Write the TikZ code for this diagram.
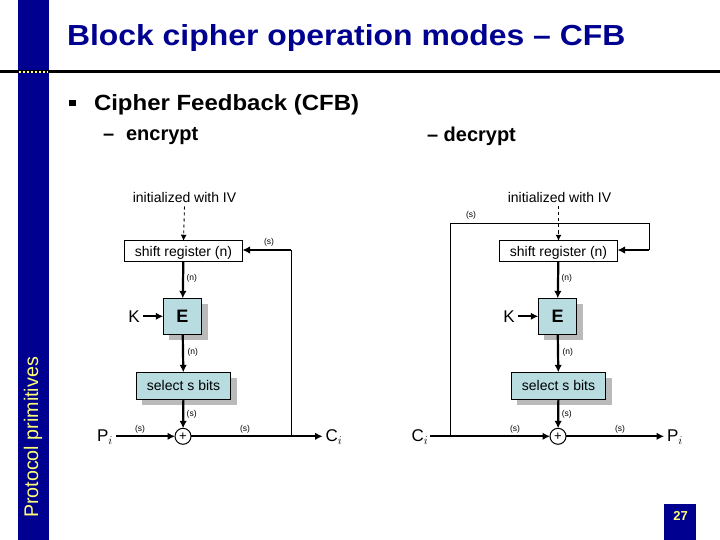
\documentclass[tikz,border=0pt]{standalone}
\usepackage{fontspec}
\setmainfont{Liberation Sans}
\usetikzlibrary{arrows.meta,calc}
\definecolor{slidenavy}{RGB}{0,0,144}
\definecolor{boxcyan}{RGB}{184,220,224}
\definecolor{shadowgray}{RGB}{186,186,186}
\definecolor{dotyellow}{RGB}{255,255,120}
\begin{document}
\begin{tikzpicture}[
        x=1pt,y=-1pt,
        every node/.style={inner sep=0pt,outer sep=0pt},
        register/.style={draw,fill=white,line width=1pt,minimum width=118pt,minimum height=20.5pt,text height=10pt,text depth=0pt,font=\fontsize{14}{16}\selectfont},
        cipherbox/.style={draw,fill=boxcyan,line width=1pt,minimum width=38.5pt,minimum height=36pt,font=\fontsize{18}{20}\selectfont\bfseries},
        selectbox/.style={draw,fill=boxcyan,line width=1pt,minimum width=94.5pt,minimum height=27pt,text height=10pt,text depth=0pt,font=\fontsize{14}{16}\selectfont},
        xorcircle/.style={draw,circle,fill=white,line width=1pt,minimum size=16pt,font=\fontsize{13}{15}\selectfont},
        boxshadow/.style={fill=shadowgray},
        bits/.style={font=\fontsize{8.5}{10}\selectfont},
        lbl/.style={text height=10pt,text depth=0pt,font=\fontsize{14}{16}\selectfont},
        sym/.style={font=\fontsize{17}{19}\selectfont},
        flow/.style={line width=2.2pt,-{Latex[length=7.5pt,width=7.5pt]}},
        thinline/.style={line width=1pt},
        ivline/.style={line width=0.9pt,dashed,-{Latex[length=6pt,width=6pt]}}
    ]
    \useasboundingbox (0,0) rectangle (720,540);

    \fill[slidenavy] (18,0) rectangle (48.7,540);
    \fill[slidenavy] (664,504) rectangle (696,540);
    \draw[line width=3pt] (0,72) -- (720,72);
    \draw[dotyellow,line width=2.4pt,dash pattern=on 2.6pt off 1.4pt] (18.5,72) -- (48,72);

    \node[anchor=west,text=slidenavy,xscale=1.1,font=\fontsize{29}{32}\selectfont\bfseries] (title) at (67,38.5) {Block cipher operation modes – CFB};
    \node[minimum size=6.5pt,fill=black] (bullet) at (72.5,103) {};
    \node[anchor=west,font=\fontsize{22}{24}\selectfont\bfseries,xscale=1.09] (cfb) at (94,105) {Cipher Feedback (CFB)};
    \node[anchor=west,font=\fontsize{20}{22}\selectfont\bfseries] (encrypt) at (103,136) {–\hspace{12pt}encrypt};
    \node[anchor=west,font=\fontsize{20}{22}\selectfont\bfseries] (decrypt) at (427,136) {– decrypt};
    \node[rotate=90,text=dotyellow,font=\fontsize{19.7}{22}\selectfont] (protocol) at (33,437.5) {Protocol primitives};
    \node[text=dotyellow,font=\fontsize{13}{15}\selectfont\bfseries] (page) at (680.5,516) {27};

    \fill[boxshadow] (169.3,304.3) rectangle (207.7,340.3);
    \fill[boxshadow] (142.3,378.3) rectangle (236.7,405.3);
    \node[lbl] (ivL) at (184.5,198) {initialized with IV};
    \node[register] (regL) at (183.5,251) {shift register (n)};
    \node[cipherbox] (cipherL) at (182.5,316.3) {E};
    \node[selectbox] (selectL) at (183.5,385.8) {select s bits};
    \node[xorcircle] (xorL) at (183,436.3) {+};
    \node[sym] (keyL) at (134,316.3) {K};
    \node[sym] (plainL) at (105,437) {P$_i$};
    \node[sym] (cipherOutL) at (334,437) {C$_i$};
    \coordinate (tapL) at (291.3,436.3);
    \coordinate (backL) at (291.3,250);
    \draw[ivline] (ivL) ++(0,8.5) -- (regL.north);
    \draw[flow] (regL) -- (cipherL);
    \draw[flow] (cipherL) -- (selectL);
    \draw[flow] (selectL) -- (xorL);
    \draw[flow] (keyL) ++(9,0) -- (cipherL);
    \draw[flow] (plainL) ++(11,-0.7) -- (xorL);
    \draw[flow] (xorL) -- ([xshift=-3pt]cipherOutL.west |- xorL);
    \draw[thinline] (tapL) -- (backL);
    \draw[flow] (backL) -- (backL -| regL.east);
    \node[bits] (bitsLa) at (269,242) {(s)};
    \node[bits] (bitsLb) at (191.7,278) {(n)};
    \node[bits] (bitsLc) at (192.7,352) {(n)};
    \node[bits] (bitsLd) at (191.7,414) {(s)};
    \node[bits] (bitsLe) at (140,429) {(s)};
    \node[bits] (bitsLf) at (245,429) {(s)};

    \fill[boxshadow] (544.3,304.3) rectangle (582.7,340.3);
    \fill[boxshadow] (517.3,378.3) rectangle (611.7,405.3);
    \node[lbl] (ivR) at (559.5,198) {initialized with IV};
    \node[register] (regR) at (558.5,251) {shift register (n)};
    \node[cipherbox] (cipherR) at (557.5,316.3) {E};
    \node[selectbox] (selectR) at (558.5,385.8) {select s bits};
    \node[xorcircle] (xorR) at (558,436.3) {+};
    \node[sym] (keyR) at (509,316.3) {K};
    \node[sym] (cipherInR) at (420,437) {C$_i$};
    \node[sym] (plainR) at (675,437) {P$_i$};
    \coordinate (tapR) at (450,436.3);
    \coordinate (cornerRa) at (450,223.3);
    \coordinate (cornerRb) at (649.3,223.3);
    \coordinate (backR) at (649.3,250);
    \draw[ivline] (ivR) ++(-1,8.5) -- (regR.north);
    \draw[flow] (regR) -- (cipherR);
    \draw[flow] (cipherR) -- (selectR);
    \draw[flow] (selectR) -- (xorR);
    \draw[flow] (keyR) ++(9,0) -- (cipherR);
    \draw[flow] (cipherInR) ++(10,-0.7) -- (xorR);
    \draw[flow] (xorR) -- ([xshift=-3pt]plainR.west |- xorR);
    \draw[thinline] (tapR) -- (cornerRa) -- (cornerRb) -- (backR);
    \draw[flow] (backR) -- (backR -| regR.east);
    \node[bits] (bitsRa) at (471,215) {(s)};
    \node[bits] (bitsRb) at (566.7,278) {(n)};
    \node[bits] (bitsRc) at (567.7,352) {(n)};
    \node[bits] (bitsRd) at (566.7,414) {(s)};
    \node[bits] (bitsRe) at (515,429) {(s)};
    \node[bits] (bitsRf) at (620,429) {(s)};
\end{tikzpicture}
\end{document}
